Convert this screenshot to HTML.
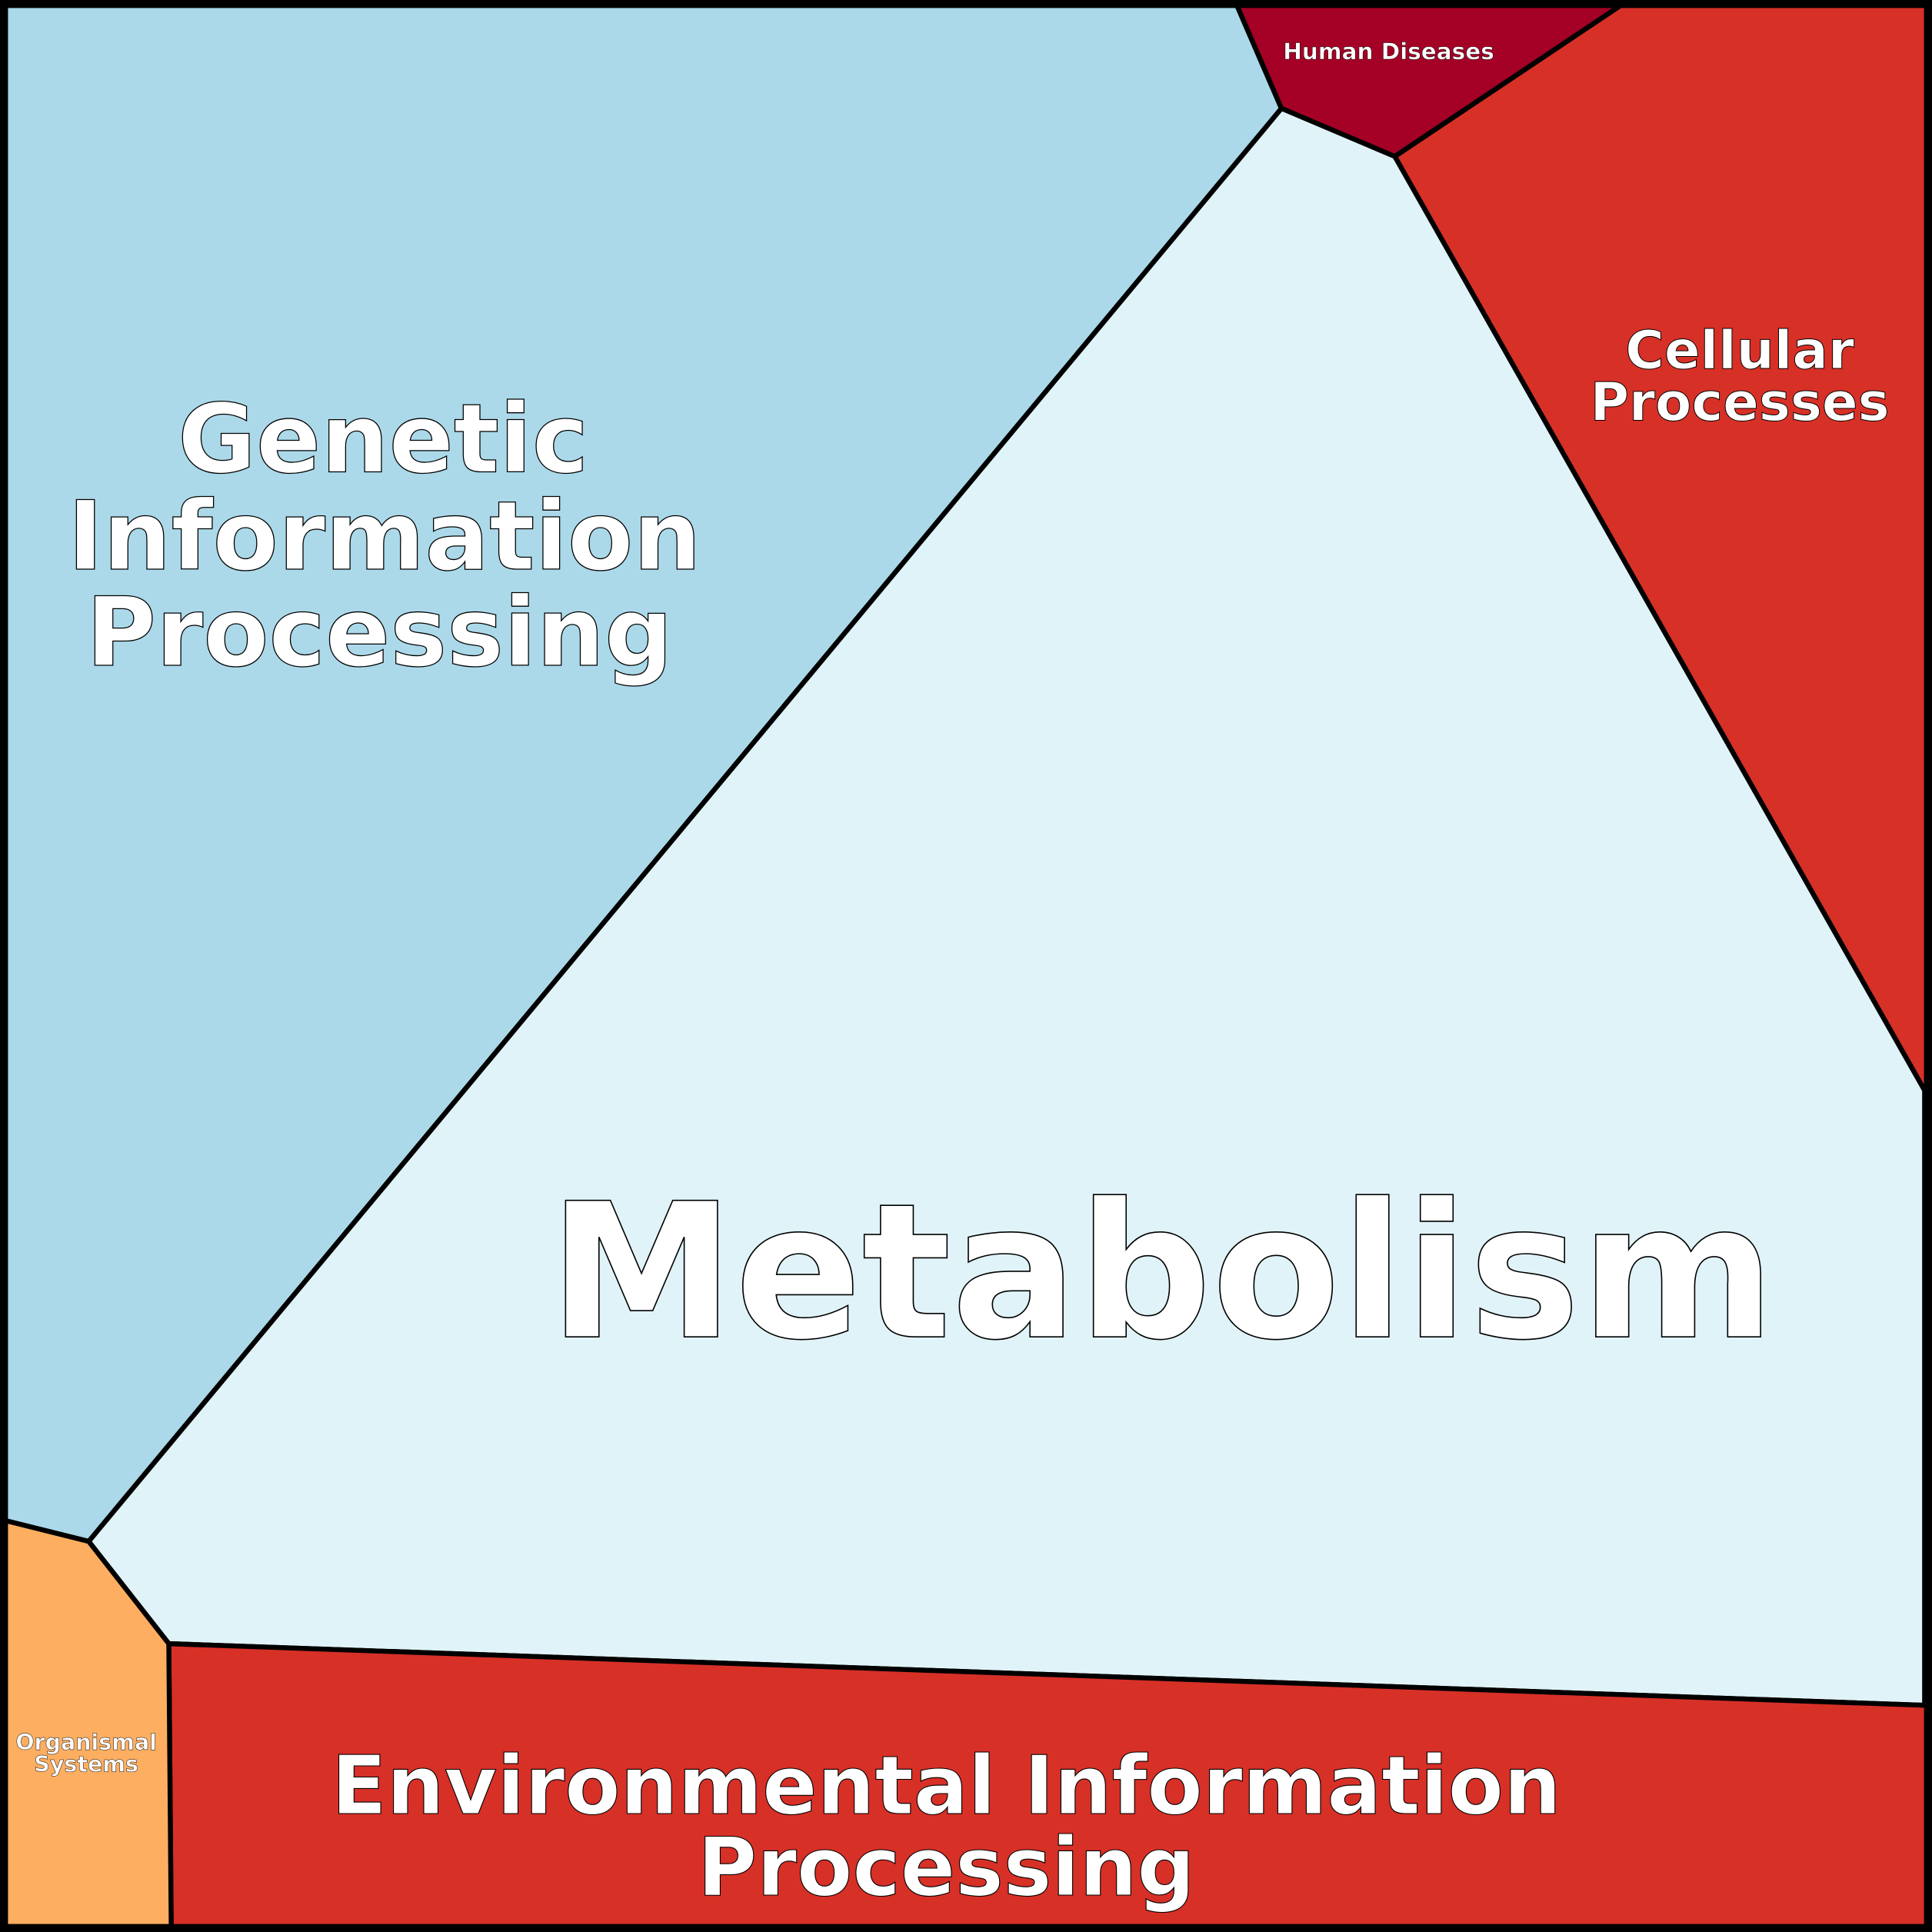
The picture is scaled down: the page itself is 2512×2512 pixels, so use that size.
<!DOCTYPE html>
<html><head><meta charset="utf-8"><style>html,body{margin:0;padding:0;background:#fff}svg{display:block}</style></head>
<body>
<svg width="2512" height="2512" viewBox="0 0 1568 1568" xmlns="http://www.w3.org/2000/svg">
<g stroke="#000" stroke-width="4" stroke-linejoin="round">
<polygon points="0,0 1002,0 1040,88 72,1251 0,1233" fill="#abd9e9"/>
<polygon points="1002,0 1322,0 1132,127 1040,88" fill="#a50026"/>
<polygon points="1322,0 1568,0 1568,885 1562,885 1132,127" fill="#d73027"/>
<polygon points="1040,88 1132,127 1562,885 1562,1384 137,1334 72,1251" fill="#e0f3f8"/>
<polygon points="137,1334 1562,1384 1568,1384 1568,1568 139,1568" fill="#d73027"/>
<polygon points="0,1233 72,1251 137,1334 139,1568 0,1568" fill="#fdae61"/>
</g>
<rect x="3" y="3" width="1562" height="1562" fill="none" stroke="#000" stroke-width="7"/>
<g font-family="'DejaVu Sans','Liberation Sans',sans-serif" font-weight="bold" fill="#fff" stroke="#000" text-anchor="middle">
<text x="943" y="1085" font-size="152" stroke-width="1">Metabolism</text>
<g font-size="77.5" stroke-width="0.8">
<text x="311" y="383">Genetic</text>
<text x="312" y="462">Information</text>
<text x="308" y="540">Processing</text>
</g>
<g font-size="43" stroke-width="0.6">
<text x="1412" y="299">Cellular</text>
<text x="1412" y="341">Processes</text>
</g>
<text x="1127" y="48" font-size="18.4" stroke-width="0.3">Human Diseases</text>
<g font-size="65.7" stroke-width="0.7">
<text x="768" y="1472">Environmental Information</text>
<text x="768" y="1538">Processing</text>
</g>
<g font-size="17.8" stroke-width="0.3">
<text x="70" y="1420">Organismal</text>
<text x="70" y="1438">Systems</text>
</g>
</g>
</svg>
</body></html>
